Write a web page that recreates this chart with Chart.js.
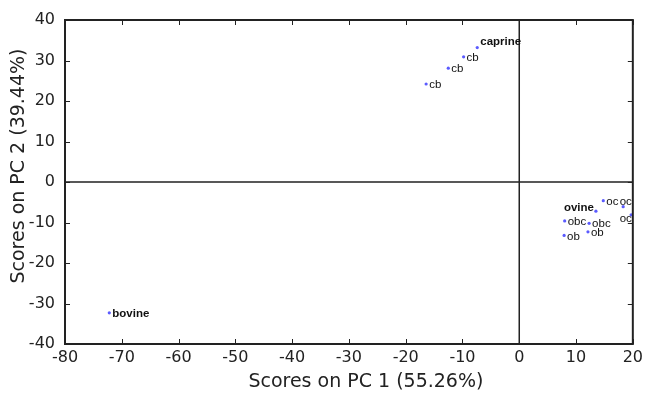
<!DOCTYPE html>
<html>
<head>
<meta charset="utf-8">
<script src="https://cdn.jsdelivr.net/npm/chart.js@4/dist/chart.umd.min.js"></script>
<style>
  html, body { margin: 0; padding: 0; background: #fff; }
  #wrap { width: 647px; height: 394px; }
</style>
</head>
<body>
<div id="wrap"><canvas id="pca"></canvas></div>
<script>
// PCA scores
const sampleNames = ['bovine', 'caprine', 'cb', 'cb', 'cb', 'ovine', 'oc', 'oc', 'oc', 'obc', 'obc', 'ob', 'ob'];
const pc1Scores = [-72.2, -7.4, -9.8, -12.5, -16.4, 13.5, 14.8, 18.3, 19.7, 8.0, 12.3, 12.1, 7.9];
const pc2Scores = [-32.3, 33.2, 30.9, 28.1, 24.2, -7.2, -4.6, -6.1, -8.1, -9.6, -10.2, -12.3, -13.2];
const groupNames = ['bovine', 'caprine', 'ovine'];

const xTitle = 'Scores on PC 1 (55.26%)';
const yTitle = 'Scores on PC 2 (39.44%)';
const xRange = [-80, 20];
const yRange = [-40, 40];
const tickStep = 10;

const points = pc1Scores.map((x, i) => ({ x: x, y: pc2Scores[i] }));
const axisFamily = '"DejaVu Sans", "Liberation Sans", Arial, sans-serif';

// box, inward ticks and the zero lines, all placed through the scales
const framePlugin = {
  id: 'frame',
  afterDatasetsDraw(chart) {
    const { ctx, chartArea: a, scales: { x, y } } = chart;
    ctx.save();
    ctx.strokeStyle = '#222';

    ctx.lineWidth = 1.5;
    ctx.beginPath();
    const x0 = x.getPixelForValue(0);
    const y0 = y.getPixelForValue(0);
    ctx.moveTo(x0, a.top); ctx.lineTo(x0, a.bottom);
    ctx.moveTo(a.left, y0); ctx.lineTo(a.right, y0);
    ctx.stroke();

    ctx.lineWidth = 1;
    ctx.beginPath();
    const len = 5;
    x.ticks.forEach(t => {
      const px = Math.round(x.getPixelForValue(t.value)) + 0.5;
      ctx.moveTo(px, a.bottom); ctx.lineTo(px, a.bottom - len);
      ctx.moveTo(px, a.top); ctx.lineTo(px, a.top + len);
    });
    y.ticks.forEach(t => {
      const py = Math.round(y.getPixelForValue(t.value)) + 0.5;
      ctx.moveTo(a.left, py); ctx.lineTo(a.left + len, py);
      ctx.moveTo(a.right, py); ctx.lineTo(a.right - len, py);
    });
    ctx.stroke();

    ctx.lineWidth = 2;
    ctx.strokeRect(a.left, a.top, a.right - a.left, a.bottom - a.top);
    ctx.restore();
  },
  afterDraw(chart) {
    // axis titles (the original sits a bit off the plot centre)
    const { ctx, chartArea: a } = chart;
    ctx.save();
    ctx.fillStyle = '#222';
    ctx.font = '19px ' + axisFamily;
    ctx.textAlign = 'center';
    ctx.textBaseline = 'middle';
    ctx.fillText(xTitle, (a.left + a.right) / 2 + 17, a.bottom + 38);
    ctx.translate(19, (a.top + a.bottom) / 2 - 16);
    ctx.rotate(-Math.PI / 2);
    ctx.fillText(yTitle, 0, 0);
    ctx.restore();
  }
};

// sample labels next to each point
const labelPlugin = {
  id: 'sampleLabels',
  afterDatasetsDraw(chart) {
    const { ctx, chartArea: a } = chart;
    const meta = chart.getDatasetMeta(0);
    ctx.save();
    ctx.beginPath();
    ctx.rect(a.left, a.top, a.right - a.left, a.bottom - a.top);
    ctx.clip();
    ctx.fillStyle = '#111';
    ctx.textBaseline = 'middle';
    let edgeCount = 0;
    meta.data.forEach((pt, i) => {
      const name = sampleNames[i];
      const isGroup = groupNames.includes(name);
      ctx.font = (isGroup ? 'bold ' : '') + '11.5px "Liberation Sans", Arial, sans-serif';
      const w = ctx.measureText(name).width;
      let tx = pt.x + 3;
      let ty = pt.y + 1;
      if (tx + w > a.right - 1) {
        // no room on the right: push against the box edge, above/below the dot
        tx = a.right - w - 1;
        ty = pt.y + (edgeCount % 2 === 0 ? -5 : 4);
        edgeCount++;
      } else if (name === 'ovine') {
        tx = pt.x - w - 2;
        ty = pt.y - 3;
      } else if (name === 'caprine') {
        ty = pt.y - 6;
      }
      ctx.fillText(name, tx, ty);
    });
    ctx.restore();
  }
};

const tickFont = { family: axisFamily, size: 16 };

new Chart(document.getElementById('pca'), {
  type: 'scatter',
  data: {
    datasets: [{
      data: points,
      pointRadius: 1.6,
      pointBackgroundColor: '#5b5bff',
      pointBorderWidth: 0
    }]
  },
  options: {
    responsive: true,
    maintainAspectRatio: false,
    animation: false,
    layout: { padding: { top: 20, right: 14, left: 0, bottom: 0 } },
    plugins: { legend: { display: false }, tooltip: { enabled: false } },
    scales: {
      x: {
        type: 'linear',
        min: xRange[0], max: xRange[1],
        grid: { display: false, drawTicks: false },
        border: { display: false },
        ticks: { stepSize: tickStep, color: '#222', font: tickFont, padding: 4, maxRotation: 0 },
        afterFit(s) { s.height = 50; }
      },
      y: {
        type: 'linear',
        min: yRange[0], max: yRange[1],
        grid: { display: false, drawTicks: false },
        border: { display: false },
        ticks: { stepSize: tickStep, color: '#222', font: tickFont, padding: 10 },
        afterFit(s) { s.width = 65; }
      }
    }
  },
  plugins: [framePlugin, labelPlugin]
});
</script>
</body>
</html>
